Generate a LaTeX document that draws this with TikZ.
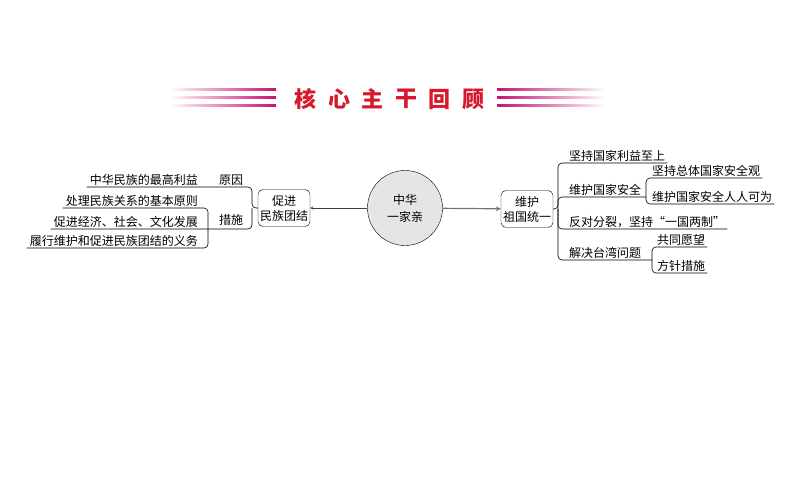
\documentclass[tikz,border=0pt]{standalone}
\usepackage{fontspec}
\newfontfamily\cjk{Noto Sans CJK SC}
\usetikzlibrary{positioning}
\definecolor{titlered}{RGB}{214,24,44}
\definecolor{stripe}{RGB}{200,20,115}
\definecolor{circfill}{RGB}{229,229,229}
\tikzset{%
  tarrow/.style = {-stealth,solid},
  brace/.style = {rounded corners=4pt,line width=0.6pt},
  circ/.style = {circle,draw,fill=circfill,minimum size=75pt,
        inner sep=0pt,align=center},
  rect/.style = {rectangle,draw,rounded corners=5pt,minimum width=52pt,
        minimum height=37pt,inner sep=1pt,align=center},
  leafl/.style = {anchor=south east,inner xsep=3pt,inner ysep=1pt},
  leafr/.style = {anchor=south west,inner xsep=2pt,inner ysep=1pt},
  ttl/.style = {text=titlered,font=\cjk\bfseries\fontsize{22}{22}\selectfont}
}
\begin{document}
\begin{tikzpicture}[
x=1pt,y=-1pt,
font=\cjk\fontsize{12}{15}\selectfont
]
\useasboundingbox (0,0) rectangle (794,495);
\foreach \y in {89,97,105} {
  \shade[left color=white,middle color=stripe!55,right color=stripe] (168,\y-1) rectangle (276,\y+1);
  \shade[left color=stripe,middle color=stripe!55,right color=white] (497,\y-1) rectangle (607,\y+1);
}
\foreach \ch [count=\i] in {核,心,主,干,回,顾}
  \node[ttl] (t\i) at (272+33.5*\i,99) {\ch};

\node[circ] (zh) at (405,208) {中华\\[2pt]一家亲};
\node[rect] (mz) at (284,208) {促进\\民族团结};
\node[rect] (zg) at (527,209) {维护\\祖国统一};
\draw[tarrow,draw=black!75] (zh) -- (mz);
\draw[tarrow,draw=black!55,line width=1.2pt] (zh) -- (zg);

\coordinate (mzh) at (252,208);
\coordinate (csh) at (208,229);
\coordinate (zgh) at (558,209);
\coordinate (aqh) at (646,197);
\coordinate (twh) at (652,260);

\node[leafl] (yy1) at (201,187) {中华民族的最高利益};
\node[leafl] (cs1) at (201,208) {处理民族关系的基本原则};
\node[leafl] (cs2) at (201,229) {促进经济、社会、文化发展};
\node[leafl] (cs3) at (201,248) {履行维护和促进民族团结的义务};
\node (yy) at (231,180) {原因};
\node (cs) at (231,220) {措施};

\node[leafr] (r1) at (567,163) {坚持国家利益至上};
\node[leafr] (r2) at (567,197) {维护国家安全};
\node[leafr] (r21) at (650,178) {坚持总体国家安全观};
\node[leafr] (r22) at (650,204) {维护国家安全人人可为};
\node[leafr] (r3) at (567,229) {反对分裂，坚持“一国两制”};
\node[leafr] (r4) at (567,260) {解决台湾问题};
\node[leafr] (r41) at (655,247) {共同愿望};
\node[leafr] (r42) at (655,273) {方针措施};

\draw[brace] (mz.west) -- (mzh) |- (yy1.south west);
\draw[brace] (mzh) |- (cs2.south west);
\draw[brace] (csh) |- (cs1.south west);
\draw[brace] (csh) |- (cs3.south west);

\draw[brace] (zg.east) -- (zgh) |- (r1.south east);
\draw[brace] (zgh) |- (aqh);
\draw[brace] (zgh) |- (r3.south east);
\draw[brace] (zgh) |- (twh);
\draw[brace] (aqh) |- (r21.south east);
\draw[brace] (aqh) |- (r22.south east);
\draw[brace] (twh) |- (r41.south east);
\draw[brace] (twh) |- (r42.south east);
\end{tikzpicture}
\end{document}
